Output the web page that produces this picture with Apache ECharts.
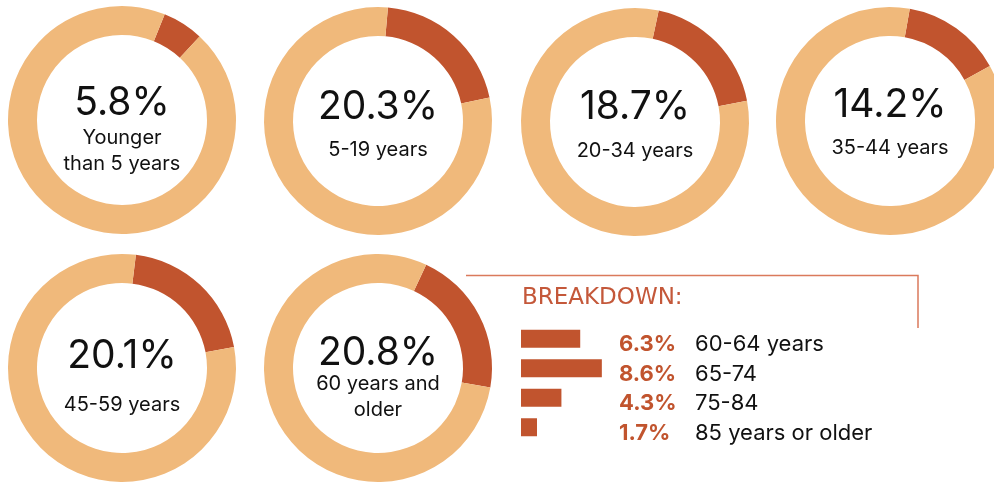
<!doctype html>
<html>
    <head>
        <meta charset="utf-8">
        <title>Population by age</title>
        <style>
            html, body { margin: 0; padding: 0; background: #fff; }
            #main { width: 994px; height: 483px; }
        </style>
    </head>
    <body>
        <div id="main"></div>
        <script src="https://cdn.jsdelivr.net/npm/echarts@6/dist/echarts.min.js"></script>
        <script>
            // share of population per age group (%)
            var groupShares = [5.8, 20.3, 18.7, 14.2, 20.1, 20.8];
            var groupLabels = ['Younger\nthan 5 years', '5-19 years', '20-34 years', '35-44 years', '45-59 years', '60 years and\nolder'];

            // breakdown of the 60+ group
            var breakdownLabels = ['60-64 years', '65-74', '75-84', '85 years or older'];
            var breakdownShares = [6.3, 8.6, 4.3, 1.7];

            var DARK = '#C1542E';
            var LIGHT = '#F0B97B';
            var FONT = 'Inter';

            // donut placement
            var centers = [[122, 120], [378, 121], [635, 122], [890, 121], [122, 368], [378, 368]];
            // clockwise offset of the dark arc from 12 o'clock, degrees
            var arcOffsets = [22, 5, 12, 10, 7, 25];
            var bigOffsets = [-17, -14, -15, -16, -12, -15];
            var subOffsets = [17, 28, 28, 26, 36, 15];

            var chart = echarts.init(document.getElementById('main'));

            var series = [];
            var graphics = [];

            groupShares.forEach(function (v, i) {
                series.push({
                    type: 'pie',
                    center: centers[i],
                    radius: [85, 114],
                    startAngle: 90 - arcOffsets[i],
                    silent: true,
                    label: { show: false },
                    labelLine: { show: false },
                    emphasis: { disabled: true },
                    data: [
                        { value: v, itemStyle: { color: DARK } },
                        { value: 100 - v, itemStyle: { color: LIGHT } }
                    ]
                });
                graphics.push({
                    type: 'text',
                    x: centers[i][0],
                    y: centers[i][1] + bigOffsets[i],
                    style: {
                        text: v.toFixed(1) + '%',
                        font: '39px ' + FONT,
                        fill: '#111',
                        textAlign: 'center',
                        textVerticalAlign: 'middle'
                    }
                });
                graphics.push({
                    type: 'text',
                    x: centers[i][0],
                    y: centers[i][1] + subOffsets[i] - 12,
                    style: {
                        text: groupLabels[i],
                        font: '20px ' + FONT,
                        fill: '#111',
                        lineHeight: 26,
                        textAlign: 'center',
                        textVerticalAlign: 'top'
                    }
                });
            });

            // frame round the breakdown
            graphics.push({
                type: 'polyline',
                shape: { points: [[466, 275.5], [918, 275.5], [918, 328]] },
                style: { stroke: '#DA7A5C', lineWidth: 1.5, fill: null }
            });
            graphics.push({
                type: 'text',
                x: 522,
                y: 298,
                style: {
                    text: 'BREAKDOWN:',
                    font: '23px "DejaVu Sans"',
                    fill: '#C4583A',
                    textAlign: 'left',
                    textVerticalAlign: 'middle'
                }
            });

            series.push({
                type: 'bar',
                xAxisIndex: 0,
                yAxisIndex: 0,
                barWidth: 18,
                silent: true,
                itemStyle: { color: DARK },
                data: breakdownShares
            });

            chart.setOption({
                animation: false,
                grid: { left: 521, top: 324, width: 94, height: 118, containLabel: false },
                xAxis: { type: 'value', min: 0, max: 10, show: false },
                yAxis: {
                    type: 'category',
                    data: breakdownLabels,
                    inverse: true,
                    position: 'right',
                    axisLine: { show: false },
                    axisTick: { show: false },
                    splitLine: { show: false },
                    axisLabel: {
                        margin: 4,
                        align: 'left',
                        padding: [12, 0, 0, 0],
                        formatter: function (value, idx) {
                            return '{p|' + breakdownShares[idx].toFixed(1) + '%}{c|' + value + '}';
                        },
                        rich: {
                            p: { width: 76, fontFamily: FONT, fontSize: 22, fontWeight: 'bold', color: DARK },
                            c: { fontFamily: FONT, fontSize: 22, color: '#111' }
                        }
                    }
                },
                graphic: graphics,
                series: series
            });
        </script>
    </body>
</html>
